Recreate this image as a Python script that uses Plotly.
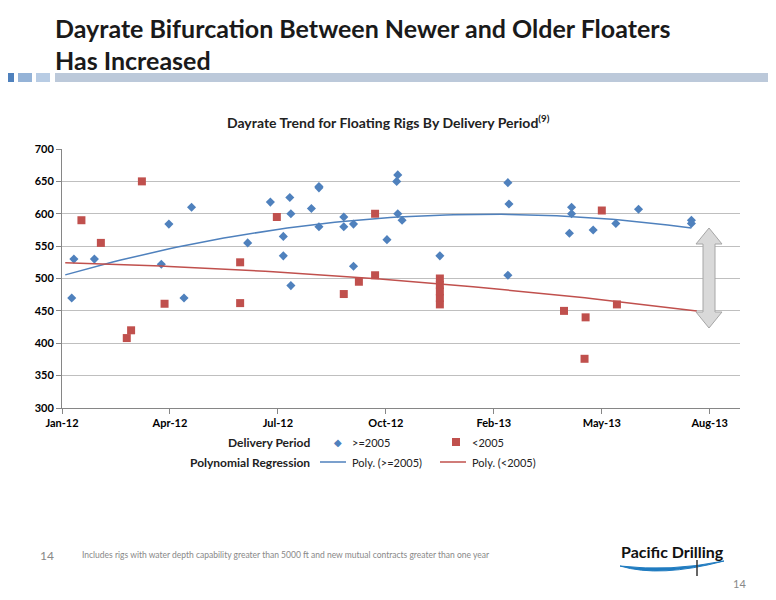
import numpy as np
import pandas as pd
import plotly.graph_objects as go

# Data
new_dates = ["2012-01-10","2012-01-12","2012-01-31","2012-04-02","2012-04-09","2012-04-23","2012-04-30",
             "2012-06-21","2012-07-12","2012-07-24","2012-07-24","2012-07-30","2012-07-31","2012-07-31",
             "2012-08-19","2012-08-26","2012-08-26","2012-08-26","2012-09-18","2012-09-18","2012-09-27",
             "2012-09-27","2012-10-28","2012-11-06","2012-11-07","2012-11-07","2012-11-11","2012-12-16",
             "2013-02-17","2013-02-18","2013-02-17","2013-04-17","2013-04-17","2013-04-15","2013-05-07",
             "2013-05-28","2013-06-18","2013-08-06","2013-08-06"]
new_rates = [470,530,530,522,584,470,610,555,618,565,535,625,600,489,608,640,642,580,595,580,584,
             519,560,650,660,600,590,535,648,615,505,610,600,570,575,585,607,590,585]
old_dates = ["2012-01-19","2012-02-06","2012-03-15","2012-03-01","2012-03-05","2012-04-05","2012-06-14",
             "2012-06-14","2012-07-18","2012-09-18","2012-10-02","2012-10-17","2012-10-17",
             "2012-12-16","2012-12-16","2012-12-16","2012-12-16","2012-12-16",
             "2013-04-10","2013-04-30","2013-04-29","2013-05-15","2013-05-29"]
old_rates = [590,555,650,408,420,461,525,462,595,476,495,600,505,460,470,480,490,500,450,440,376,605,460]
tick_dates = ["2012-01-01","2012-04-10","2012-07-19","2012-10-27","2013-02-04","2013-05-15","2013-08-23"]
tick_labels = ["Jan-12","Apr-12","Jul-12","Oct-12","Feb-13","May-13","Aug-13"]

BLUE = "#4F81BD"; RED = "#C0504D"
FONT = "Lato"
base = pd.Timestamp("2012-01-01")

def trend(dates, vals, d0, d1):
    d = (pd.to_datetime(dates) - base).days.values.astype(float)
    c = np.polyfit(d, np.array(vals, float), 2)
    xs = np.linspace(d0, d1, 80)
    return [base + pd.Timedelta(days=float(x)) for x in xs], np.polyval(c, xs)

tbx, tby = trend(new_dates, new_rates, 3, 583)
trx, try_ = trend(old_dates, old_rates, 3, 588)

fig = go.Figure()
fig.add_trace(go.Scatter(x=pd.to_datetime(new_dates), y=new_rates, mode="markers",
                         marker=dict(symbol="diamond", size=7, color=BLUE)))
fig.add_trace(go.Scatter(x=pd.to_datetime(old_dates), y=old_rates, mode="markers",
                         marker=dict(symbol="square", size=8, color=RED)))
fig.add_trace(go.Scatter(x=tbx, y=tby, mode="lines", line=dict(color=BLUE, width=1.5)))
fig.add_trace(go.Scatter(x=trx, y=try_, mode="lines", line=dict(color=RED, width=1.5)))

OFF = 8
W, H = 776 - OFF, 600 - OFF
L, R, T, B = 62, 740, 149, 408   # reference pixel coords
def px(x): return (x - L) / (R - L)
def py(y): return 1 - (y - T) / (B - T)

shapes = []
shapes.append(dict(type="rect", xref="paper", yref="paper", x0=px(55), x1=px(790), y0=py(82), y1=py(73),
                   fillcolor="#BCC9DA", line=dict(width=0), layer="above"))
for i, c in enumerate(["#4F81BD", "#95B3D7", "#B8CCE4"]):
    shapes.append(dict(type="rect", xref="paper", yref="paper", x0=px(0 + i*18), x1=px(14 + i*18),
                       y0=py(82), y1=py(73), fillcolor=c, line=dict(width=0)))
ax, sw, hw, tip1, tip2, hl = 709, 6, 13, 228, 328, 16
pts = [(ax, tip1), (ax+hw, tip1+hl), (ax+sw, tip1+hl), (ax+sw, tip2-hl), (ax+hw, tip2-hl), (ax, tip2),
       (ax-hw, tip2-hl), (ax-sw, tip2-hl), (ax-sw, tip1+hl), (ax-hw, tip1+hl)]
path = "M " + " L ".join(f"{px(x):.5f},{py(y):.5f}" for x, y in pts) + " Z"
shapes.append(dict(type="path", xref="paper", yref="paper", path=path, fillcolor="#D9D9D9",
                   line=dict(color="#A6A6A6", width=1)))
for x0, col in [(320, BLUE), (440, RED)]:
    shapes.append(dict(type="line", xref="paper", yref="paper", x0=px(x0), x1=px(x0+26),
                       y0=py(462), y1=py(462), line=dict(color=col, width=1.5)))
# legend square
shapes.append(dict(type="rect", xref="paper", yref="paper", x0=px(452), x1=px(460),
                   y0=py(446), y1=py(438), fillcolor=RED, line=dict(width=0)))
shapes.append(dict(type="path", xref="paper", yref="paper",
                   path=f"M {px(620)},{py(566)} Q {px(660)},{py(578)} {px(724)},{py(561)} Q {px(670)},{py(572)} {px(620)},{py(566)} Z",
                   fillcolor="#1F7BC0", line=dict(color="#1F7BC0", width=1)))
shapes.append(dict(type="line", xref="paper", yref="paper", x0=px(697), x1=px(697),
                   y0=py(560), y1=py(576), line=dict(color="#333", width=1.5)))

ann = []
def A(x, y, text, size=11, color="#000", bold=False, xanchor="left", yanchor="middle"):
    ann.append(dict(xref="paper", yref="paper", x=px(x), y=py(y), text=f"<b>{text}</b>" if bold else text,
                    showarrow=False, xanchor=xanchor, yanchor=yanchor,
                    font=dict(family=FONT, size=size, color=color)))
A(53, 28, "Dayrate Bifurcation Between Newer and Older Floaters", 25, "#1a1a1a", True)
A(53, 60, "Has Increased", 25, "#1a1a1a", True)
A(388, 121, "Dayrate Trend for Floating Rigs By Delivery Period<sup>(9)</sup>", 14, "#222", True, "center")
A(312, 442, "Delivery Period", 12, "#222", True, "right")
A(312, 462, "Polynomial Regression", 12, "#222", True, "right")
A(338, 442, "◆", 10, BLUE, False, "center")
A(350, 442, ">=2005", 11, "#222")
A(470, 442, "<2005", 11, "#222")
A(350, 462, "Poly. (>=2005)", 11, "#222")
A(470, 462, "Poly. (<2005)", 11, "#222")
A(38, 555, "14", 12, "#888")
A(80, 555, "Includes rigs with water depth capability greater than 5000 ft and new mutual contracts greater than one year", 8.5, "#888")
A(672, 551, "Pacific Drilling", 16, "#111", True, "center")
A(748, 583, "14", 11, "#888", False, "right")

tf = dict(family=FONT, size=11, color="#000", weight="bold")
fig.update_layout(
    width=W, height=H, showlegend=False, plot_bgcolor="white", paper_bgcolor="white",
    margin=dict(l=L - OFF, r=776 - R, t=T - OFF, b=600 - B),
    font=dict(family=FONT, size=11, color="#000"),
    xaxis=dict(type="date", range=["2012-01-01", "2013-09-20"], tickvals=tick_dates, ticktext=tick_labels,
               showgrid=False, showline=True, linecolor="#868686", ticks="outside", tickcolor="#868686",
               ticklen=5, tickfont=tf, zeroline=False),
    yaxis=dict(range=[300, 700], dtick=50, showgrid=True, gridcolor="#BFBFBF", showline=True,
               linecolor="#868686", ticks="outside", tickcolor="#868686", ticklen=5,
               tickfont=tf, zeroline=False),
    shapes=shapes, annotations=ann,
)
fig.write_html("out.html")
